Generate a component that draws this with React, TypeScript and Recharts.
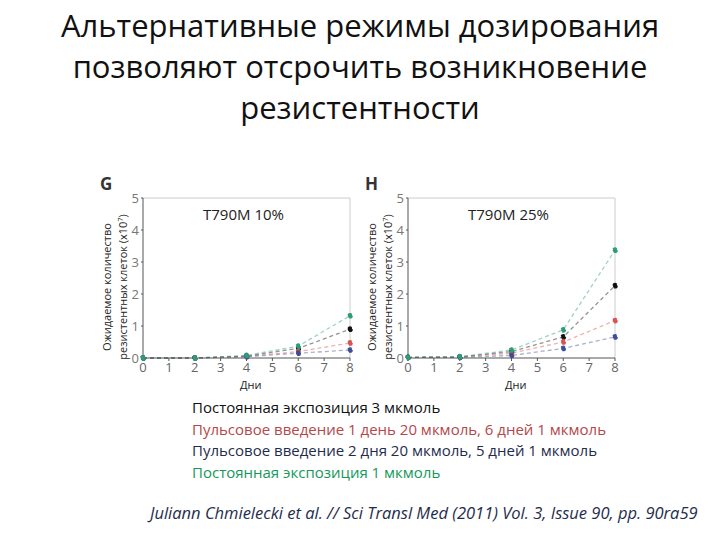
import { LineChart, Line, XAxis, YAxis, ReferenceLine } from "recharts";

const days = [0, 2, 4, 6, 8];
const xTicks = [0, 1, 2, 3, 4, 5, 6, 7, 8];
const yTicks = [0, 1, 2, 3, 4, 5];

// T790M 10%
const gConst3 = [0, 0, 0.06, 0.3, 0.9];
const gPulse1 = [0, 0, 0.05, 0.2, 0.47];
const gPulse2 = [0, 0, 0.04, 0.15, 0.25];
const gConst1 = [0, 0, 0.08, 0.37, 1.32];

// T790M 25%
const hConst3 = [0.02, 0.03, 0.2, 0.66, 2.26];
const hPulse1 = [0.02, 0.03, 0.15, 0.5, 1.17];
const hPulse2 = [0.02, 0.02, 0.08, 0.3, 0.66];
const hConst1 = [0.02, 0.04, 0.25, 0.88, 3.37];

const legendLines = [
  { text: "Постоянная экспозиция 3 мкмоль", color: "#111111" },
  { text: "Пульсовое введение 1 день 20 мкмоль, 6 дней 1 мкмоль", color: "#b5474a" },
  { text: "Пульсовое введение 2 дня 20 мкмоль, 5 дней 1 мкмоль", color: "#1f2d4d" },
  { text: "Постоянная экспозиция 1 мкмоль", color: "#14995a" },
];

const seriesColors = { c3: "#111111", p1: "#d9534f", p2: "#3b4f96", c1: "#2a9d78" };

const buildRows = (a: number[], b: number[], c: number[], d: number[]) =>
  days.map((day, i) => ({ day, c3: a[i], p1: b[i], p2: c[i], c1: d[i] }));

const gRows = buildRows(gConst3, gPulse1, gPulse2, gConst1);
const hRows = buildRows(hConst3, hPulse1, hPulse2, hConst1);

const font = "'Open Sans', 'Noto Sans', sans-serif";

function Panel({ rows, left, letter, note }: { rows: any[]; left: number; letter: string; note: string }) {
  return (
    <>
      <div style={{ position: "absolute", left: left - 30, top: 172, fontSize: 17, fontWeight: 700, color: "#333", fontFamily: font }}>
        {letter}
      </div>
      <div style={{ position: "absolute", left, top: 190 }}>
        <LineChart width={228} height={190} data={rows} margin={{ top: 8, right: 8, left: 0, bottom: 0 }}>
          <XAxis
            dataKey="day"
            type="number"
            domain={[0, 8]}
            ticks={xTicks}
            height={22}
            stroke="#555"
            tick={{ fill: "#666", fontSize: 13, fontFamily: font }}
            tickSize={3}
          />
          <YAxis
            type="number"
            domain={[0, 5]}
            ticks={yTicks}
            width={13}
            stroke="#555"
            tick={{ fill: "#777", fontSize: 13, fontFamily: font }}
            tickSize={2}
          />
          <ReferenceLine y={5} stroke="#ccc" />
          <ReferenceLine x={8} stroke="#ccc" />
          {(["c3", "p1", "p2", "c1"] as const).map((k) => (
            <Line
              key={k}
              dataKey={k}
              type="linear"
              stroke={seriesColors[k]}
              strokeOpacity={0.45}
              strokeDasharray="4 3"
              strokeWidth={1.3}
              dot={{ r: 2.2, fill: seriesColors[k], stroke: seriesColors[k], strokeOpacity: 1 }}
              isAnimationActive={false}
            />
          ))}
        </LineChart>
      </div>
      <div style={{ position: "absolute", left: left + 73, top: 204, fontSize: 15, color: "#222", fontFamily: font }}>{note}</div>
      <div style={{ position: "absolute", left: left + 110, top: 379, fontSize: 11, lineHeight: "12px", color: "#222", fontFamily: font }}>Дни</div>
      <div
        style={{
          position: "absolute",
          left: left - 15,
          top: 287,
          width: 170,
          transform: "translate(-50%, -50%) rotate(-90deg)",
          transformOrigin: "center",
          textAlign: "center",
          fontSize: 11,
          lineHeight: "14px",
          color: "#222",
          fontFamily: font,
          whiteSpace: "nowrap",
        }}
      >
        Ожидаемое количество
        <br />
        резистентных клеток (x10<sup style={{ fontSize: 7 }}>7</sup>)
      </div>
    </>
  );
}

export default function App() {
  return (
    <div style={{ position: "absolute", left: 0, top: 0, width: 720, height: 540, background: "#fff", overflow: "hidden" }}>
      <div
        style={{
          position: "absolute",
          left: 0,
          top: 5,
          width: 720,
          textAlign: "center",
          fontSize: 31,
          lineHeight: "41px",
          color: "#111",
          fontFamily: font,
        }}
      >
        Альтернативные режимы дозирования
        <br />
        позволяют отсрочить возникновение
        <br />
        резистентности
      </div>
      <Panel rows={gRows} left={130} letter="G" note="T790M 10%" />
      <Panel rows={hRows} left={395} letter="H" note="T790M 25%" />
      <div style={{ position: "absolute", left: 192, top: 397, fontFamily: font, fontSize: 15, lineHeight: "21.5px" }}>
        {legendLines.map((l) => (
          <div key={l.text} style={{ color: l.color }}>
            {l.text}
          </div>
        ))}
      </div>
      <div
        style={{
          position: "absolute",
          left: 150,
          top: 501,
          fontFamily: font,
          fontStyle: "italic",
          fontSize: 16.5,
          color: "#1f2d4d",
          whiteSpace: "nowrap",
        }}
      >
        Juliann Chmielecki et al. // Sci Transl Med (2011) Vol. 3, Issue 90, pp. 90ra59
      </div>
    </div>
  );
}
